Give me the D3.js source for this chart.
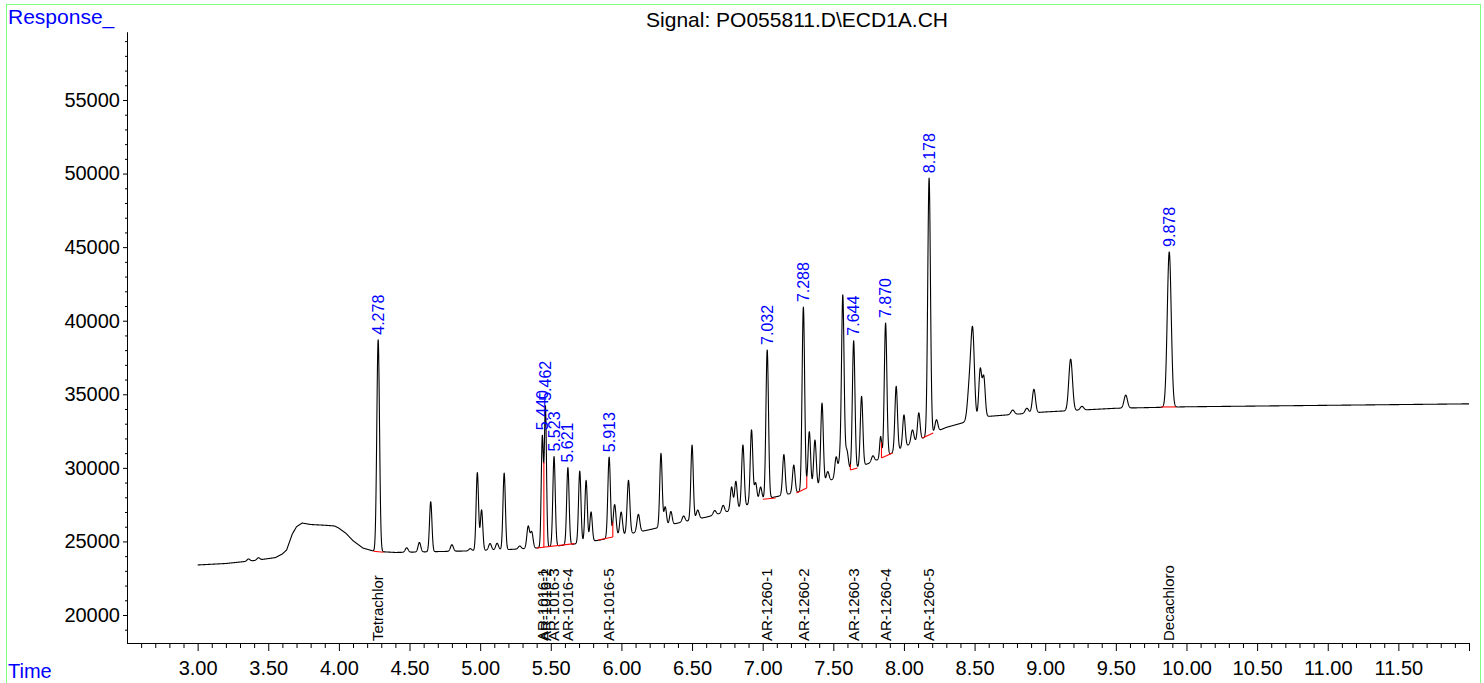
<!DOCTYPE html>
<html>
<head>
<meta charset="utf-8">
<script src="https://cdn.jsdelivr.net/npm/d3@7"></script>
<style>
  html, body { margin: 0; padding: 0; background: #fff; }
  svg { display: block; font-family: "Liberation Sans", Arial, Helvetica, sans-serif; }
</style>
</head>
<body>
<svg id="chart" width="1484" height="683"></svg>
<script>
// ---- Detector drift (time in min, response counts) ----
const driftTimes  = [3.00, 3.20, 3.40, 3.55, 3.60, 3.63, 3.67, 3.70, 3.74, 3.80, 3.90, 3.97, 4.00, 4.05, 4.10, 4.17, 4.25, 4.40, 4.90, 5.20, 5.40, 5.65, 5.85, 6.00, 6.20, 6.40, 6.60, 6.80, 7.00, 7.25, 7.45, 7.62, 7.84, 8.00, 8.13, 8.20, 8.30, 8.43, 8.50, 8.60, 8.80, 9.00, 9.50, 10.00, 11.00, 12.00];
const driftValues = [23400, 23500, 23700, 23900, 24150, 24420, 25500, 26000, 26250, 26150, 26100, 26050, 25900, 25550, 25050, 24550, 24330, 24250, 24350, 24450, 24550, 24800, 25100, 25400, 25800, 26250, 26650, 27150, 27850, 28350, 29000, 29800, 30650, 31400, 32000, 32350, 32750, 33100, 33350, 33500, 33650, 33800, 34050, 34150, 34250, 34350];

// ---- Peaks: retention time, height above drift, gaussian sigma (min) ----
const peakTimes = [3.36, 3.43, 4.278, 4.48, 4.57, 4.65, 4.80, 4.93, 4.98, 5.01, 5.07, 5.12, 5.17, 5.28, 5.34, 5.365, 5.440, 5.462, 5.523, 5.621, 5.705, 5.75, 5.785, 5.913, 5.952, 5.998, 6.05, 6.12, 6.28, 6.31, 6.35, 6.44, 6.50, 6.54, 6.66, 6.72, 6.78, 6.81, 6.86, 6.921, 6.95, 6.985, 7.032, 7.15, 7.22, 7.288, 7.33, 7.37, 7.42, 7.46, 7.52, 7.545, 7.567, 7.595, 7.644, 7.70, 7.78, 7.835, 7.870, 7.945, 8.00, 8.06, 8.105, 8.178, 8.23, 8.465, 8.487, 8.54, 8.565, 8.77, 8.87, 8.92, 9.18, 9.26, 9.57, 9.878];
const peakHeights = [150, 150, 14390, 300, 650, 3400, 450, 150, 5300, 2750, 450, 450, 5200, 200, 1500, 1100, 7500, 9500, 6100, 5250, 4900, 4200, 2000, 5500, 2200, 1600, 3650, 1200, 5000, 1300, 900, 400, 5100, 600, 300, 500, 1600, 1900, 4200, 5000, 1300, 900, 10100, 2750, 1900, 12450, 3850, 3150, 5500, 700, 1400, 1000, 12100, 1500, 8750, 4750, 400, 1500, 9050, 4400, 2200, 900, 1850, 17450, 800, 2500, 5500, 3250, 2700, 300, 350, 1600, 3500, 250, 880, 10550];
const peakSigmas = [0.010, 0.010, 0.0095, 0.010, 0.0095, 0.0085, 0.010, 0.010, 0.0085, 0.0085, 0.010, 0.010, 0.0085, 0.010, 0.0095, 0.0095, 0.0075, 0.0075, 0.0085, 0.0085, 0.0085, 0.0085, 0.0085, 0.009, 0.010, 0.0095, 0.0095, 0.010, 0.0085, 0.009, 0.009, 0.010, 0.0085, 0.010, 0.010, 0.010, 0.009, 0.009, 0.009, 0.009, 0.009, 0.009, 0.009, 0.009, 0.009, 0.009, 0.009, 0.009, 0.009, 0.010, 0.009, 0.009, 0.009, 0.011, 0.009, 0.009, 0.010, 0.007, 0.009, 0.009, 0.009, 0.010, 0.009, 0.0095, 0.010, 0.014, 0.012, 0.010, 0.010, 0.012, 0.012, 0.011, 0.013, 0.012, 0.012, 0.014];

// ---- Identified compounds (retention time, name) ----
const compoundTimes = [4.278, 5.440, 5.462, 5.523, 5.621, 5.913, 7.032, 7.288, 7.644, 7.870, 8.178, 9.878];
const compoundNames = ["Tetrachlor", "AR-1016-1", "AR-1016-2", "AR-1016-3", "AR-1016-4", "AR-1016-5", "AR-1260-1", "AR-1260-2", "AR-1260-3", "AR-1260-4", "AR-1260-5", "Decachloro"];

// ---- Integration baselines ----
const baseStartTimes  = [4.245, 5.400, 5.835, 7.001, 7.239, 7.621, 7.841, 8.131, 9.820];
const baseStartValues = [24330, 24550, 25100, 27870, 28290, 29850, 30670, 32030, 34140];
const baseEndTimes    = [4.315, 5.668, 5.939, 7.091, 7.312, 7.671, 7.919, 8.207, 9.926];
const baseEndValues   = [24260, 24850, 25300, 27950, 28630, 29990, 31010, 32370, 34140];
// Perpendicular drops from the baseline up to the signal
const dropTimes = [5.451, 5.939, 7.312, 7.621, 7.841];

// ---- Axis ticks ----
const xMajorTicks = [3.0, 3.5, 4.0, 4.5, 5.0, 5.5, 6.0, 6.5, 7.0, 7.5, 8.0, 8.5, 9.0, 9.5, 10.0, 10.5, 11.0, 11.5];
const yMajorTicks = [20000, 25000, 30000, 35000, 40000, 45000, 50000, 55000];
const xDomain = [2.5, 12.0];
const yDomain = [18097, 59621];
const runStart = 3.0, runEnd = 12.0;

const title = "Signal: PO055811.D\\ECD1A.CH";

// ---------------------------------------------------------------
const svg = d3.select("#chart");
const W = 1484, H = 683;
const plot = { left: 127, right: 1469, top: 32, bottom: 643 };

const x = d3.scaleLinear().domain(xDomain).range([plot.left, plot.right]);
const y = d3.scaleLinear().domain(yDomain).range([plot.bottom, plot.top]);
const drift = d3.scaleLinear().domain(driftTimes).range(driftValues).clamp(true);

// detector response at time t: drift + gaussian peaks
function signal(t) {
  let v = drift(t);
  for (let i = 0; i < peakTimes.length; i++) {
    const d = t - peakTimes[i];
    const s = peakSigmas[i];
    if (Math.abs(d) < 6 * s) v += peakHeights[i] * Math.exp(-d * d / (2 * s * s));
  }
  return v;
}

// outer frame
svg.append("rect")
  .attr("x", 6.5).attr("y", 4.5)
  .attr("width", 1474).attr("height", 720)
  .attr("fill", "none").attr("stroke", "#80ff80").attr("stroke-width", 1);

// header texts
svg.append("text").attr("x", 8).attr("y", 24)
  .attr("font-size", 21).attr("fill", "#0000ff").text("Response_");
svg.append("text").attr("x", 8).attr("y", 678)
  .attr("font-size", 20).attr("fill", "#0000ff").text("Time");
svg.append("text").attr("x", 797).attr("y", 27)
  .attr("font-size", 21).attr("text-anchor", "middle").attr("fill", "#000").text(title);

// ---- axes ----
const xMinor = d3.range(26, 120).map(v => v / 10).filter(v => Math.abs(v * 2 - Math.round(v * 2)) > 1e-6);
const yMinor = d3.range(19, 60).map(v => v * 1000).filter(v => v % 5000 !== 0);

function styleAxis(g) {
  g.select(".domain").attr("stroke", "#000").attr("stroke-width", 1);
  g.selectAll(".tick line").attr("stroke", "#000").attr("stroke-width", 1);
  g.selectAll(".tick text").attr("fill", "#000").attr("font-size", 20)
    .attr("font-family", "Liberation Sans, Arial, sans-serif");
}

const gx = svg.append("g").attr("transform", `translate(0,${plot.bottom})`);
gx.append("g").call(d3.axisBottom(x).tickValues(xMinor).tickSize(5).tickSizeOuter(0).tickFormat(""))
  .call(styleAxis);
gx.append("g").call(d3.axisBottom(x).tickValues(xMajorTicks.concat([12.0])).tickSize(8).tickSizeOuter(0)
  .tickPadding(10).tickFormat(d => d >= 12 ? "" : d3.format(".2f")(d)))
  .call(styleAxis);

const gy = svg.append("g").attr("transform", `translate(${plot.left},0)`);
gy.append("g").call(d3.axisLeft(y).tickValues(yMinor).tickSize(2).tickSizeOuter(0).tickFormat(""))
  .call(styleAxis);
gy.append("g").call(d3.axisLeft(y).tickValues(yMajorTicks).tickSize(4).tickSizeOuter(0)
  .tickPadding(3).tickFormat(d3.format("d")))
  .call(styleAxis);

// ---- chromatogram trace ----
const samples = d3.range(runStart, runEnd + 0.0005, 0.001).map(t => [t, signal(t)]);
svg.append("path")
  .datum(samples)
  .attr("fill", "none")
  .attr("stroke", "#000")
  .attr("stroke-width", 1.1)
  .attr("stroke-linejoin", "round")
  .attr("d", d3.line().x(d => x(d[0])).y(d => y(d[1])));

// ---- integration baselines (red) ----
const gInt = svg.append("g").attr("stroke", "#ff0000").attr("stroke-width", 1.1).attr("fill", "none");
baseStartTimes.forEach((t0, i) => {
  gInt.append("line")
    .attr("x1", x(t0)).attr("y1", y(baseStartValues[i]))
    .attr("x2", x(baseEndTimes[i])).attr("y2", y(baseEndValues[i]));
});
dropTimes.forEach(t => {
  const i = baseStartTimes.findIndex((t0, k) => t >= t0 - 1e-9 && t <= baseEndTimes[k] + 1e-9);
  if (i < 0) return;
  const base = d3.scaleLinear().domain([baseStartTimes[i], baseEndTimes[i]])
    .range([baseStartValues[i], baseEndValues[i]])(t);
  gInt.append("line")
    .attr("x1", x(t)).attr("y1", y(base))
    .attr("x2", x(t)).attr("y2", y(signal(t)));
});

// ---- retention-time labels above the identified peaks ----
svg.append("g").selectAll("text")
  .data(compoundTimes)
  .join("text")
  .attr("transform", t => `translate(${x(t)},${y(signal(t)) - 5}) rotate(-90)`)
  .attr("dy", "0.35em")
  .attr("font-size", 16)
  .attr("fill", "#0000ff")
  .text(t => d3.format(".3f")(t));

// ---- compound names along the time axis ----
svg.append("g").selectAll("text")
  .data(compoundTimes)
  .join("text")
  .attr("transform", t => `translate(${x(t)},${plot.bottom - 2}) rotate(-90)`)
  .attr("dy", "0.35em")
  .attr("font-size", 15)
  .attr("fill", "#000")
  .text((t, i) => compoundNames[i]);
</script>
</body>
</html>
